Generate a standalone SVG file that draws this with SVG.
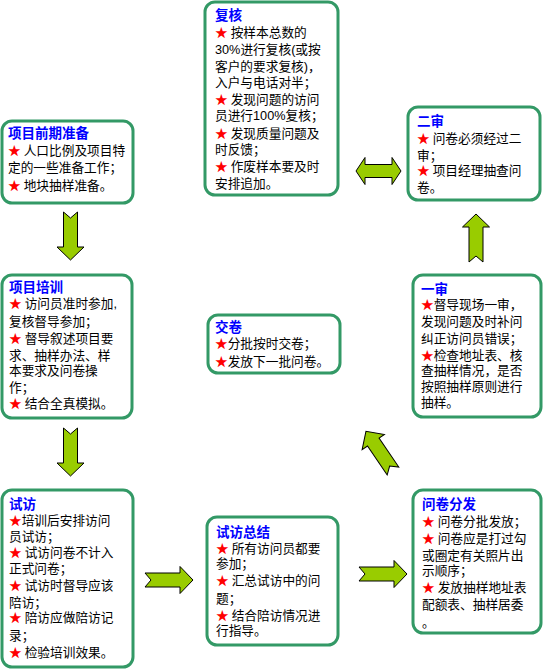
<svg xmlns="http://www.w3.org/2000/svg" xmlns:xlink="http://www.w3.org/1999/xlink" width="546" height="670" viewBox="0 0 546 670">
<style>
.box{fill:#fff;stroke:#339966;stroke-width:3}
.t{font-family:"Liberation Sans","Noto Sans CJK SC",sans-serif;font-size:13.5px;font-weight:bold;fill:#0000ff}
.b{font-family:"Liberation Sans","Noto Sans CJK SC",sans-serif;font-size:12.7px;fill:#000}
.s{fill:#ff0000}
.arr{fill:#99cc00;stroke:#000;stroke-width:1}
</style>
<defs>
<polygon id="arr" points="0,-7 35,-7 35,-13.5 48,0 35,13.5 35,7 0,7 6,0"/>
</defs>
<rect width="546" height="670" fill="#fff"/>
<g id="connectors" class="arr">
<use xlink:href="#arr" href="#arr" transform="translate(70.5,212) rotate(90)"/>
<use xlink:href="#arr" href="#arr" transform="translate(70.5,428) rotate(90)"/>
<use xlink:href="#arr" href="#arr" transform="translate(145,580)"/>
<use xlink:href="#arr" href="#arr" transform="translate(359,574)"/>
<use xlink:href="#arr" href="#arr" transform="translate(393,471) rotate(-124.3)"/>
<use xlink:href="#arr" href="#arr" transform="translate(476,262) rotate(-90)"/>
<polygon points="356,171 365,157.5 365,164.5 392,164.5 392,157.5 401,171 392,184.5 392,177.5 365,177.5 365,184.5"/>
</g>
<g id="n1">
<rect class="box" x="2" y="121" width="131" height="82" rx="10"/>
<text class="t" x="8" y="138">项目前期准备</text>
<text class="b" x="8" y="155"><tspan class="s">★</tspan><tspan dx="3">人口比例及项目特</tspan></text>
<text class="b" x="8" y="172">定的一些准备工作；</text>
<text class="b" x="8" y="190"><tspan class="s">★</tspan><tspan dx="3">地块抽样准备。</tspan></text>
</g>
<g id="n2">
<rect class="box" x="205" y="2" width="133" height="193" rx="10"/>
<text class="t" x="215" y="20">复核</text>
<text class="b" x="215" y="37"><tspan class="s">★</tspan><tspan dx="3">按样本总数的</tspan></text>
<text class="b" x="215" y="54">30%进行复核(或按</text>
<text class="b" x="215" y="71">客户的要求复核)，</text>
<text class="b" x="215" y="87">入户与电话对半；</text>
<text class="b" x="215" y="104"><tspan class="s">★</tspan><tspan dx="3">发现问题的访问</tspan></text>
<text class="b" x="215" y="120">员进行100%复核；</text>
<text class="b" x="215" y="138"><tspan class="s">★</tspan><tspan dx="3">发现质量问题及</tspan></text>
<text class="b" x="215" y="154">时反馈；</text>
<text class="b" x="215" y="171"><tspan class="s">★</tspan><tspan dx="3">作废样本要及时</tspan></text>
<text class="b" x="215" y="188">安排追加。</text>
</g>
<g id="n3">
<rect class="box" x="408" y="107" width="132" height="93" rx="10"/>
<text class="t" x="417" y="126">二审</text>
<text class="b" x="417" y="143"><tspan class="s">★</tspan><tspan dx="3">问卷必须经过二</tspan></text>
<text class="b" x="417" y="160">审；</text>
<text class="b" x="417" y="175"><tspan class="s">★</tspan><tspan dx="3">项目经理抽查问</tspan></text>
<text class="b" x="417" y="192">卷。</text>
</g>
<g id="n4">
<rect class="box" x="2" y="275" width="130" height="143" rx="10"/>
<text class="t" x="9" y="292">项目培训</text>
<text class="b" x="9" y="308"><tspan class="s">★</tspan><tspan dx="3">访问员准时参加,</tspan></text>
<text class="b" x="9" y="326">复核督导参加；</text>
<text class="b" x="9" y="343"><tspan class="s">★</tspan><tspan dx="3">督导叙述项目要</tspan></text>
<text class="b" x="9" y="360">求、抽样办法、样</text>
<text class="b" x="9" y="375">本要求及问卷操</text>
<text class="b" x="9" y="392">作；</text>
<text class="b" x="9" y="408"><tspan class="s">★</tspan><tspan dx="3">结合全真模拟。</tspan></text>
</g>
<g id="n5">
<rect class="box" x="208" y="315" width="132" height="58" rx="10"/>
<text class="t" x="215" y="332">交卷</text>
<text class="b" x="215" y="348"><tspan class="s">★</tspan>分批按时交卷；</text>
<text class="b" x="215" y="366"><tspan class="s">★</tspan>发放下一批问卷。</text>
</g>
<g id="n6">
<rect class="box" x="413" y="275" width="128" height="142" rx="10"/>
<text class="t" x="421" y="294">一审</text>
<text class="b" x="421" y="309"><tspan class="s">★</tspan>督导现场一审，</text>
<text class="b" x="421" y="326">发现问题及时补问</text>
<text class="b" x="421" y="343">纠正访问员错误；</text>
<text class="b" x="421" y="360"><tspan class="s">★</tspan>检查地址表、核</text>
<text class="b" x="421" y="375">查抽样情况，是否</text>
<text class="b" x="421" y="391">按照抽样原则进行</text>
<text class="b" x="421" y="407">抽样。</text>
</g>
<g id="n7">
<rect class="box" x="2" y="490" width="131" height="177" rx="10"/>
<text class="t" x="9" y="509">试访</text>
<text class="b" x="9" y="525"><tspan class="s">★</tspan>培训后安排访问</text>
<text class="b" x="9" y="541">员试访；</text>
<text class="b" x="9" y="557"><tspan class="s">★</tspan><tspan dx="3">试访问卷不计入</tspan></text>
<text class="b" x="9" y="573">正式问卷；</text>
<text class="b" x="9" y="590"><tspan class="s">★</tspan><tspan dx="3">试访时督导应该</tspan></text>
<text class="b" x="9" y="607">陪访；</text>
<text class="b" x="9" y="622"><tspan class="s">★</tspan><tspan dx="3">陪访应做陪访记</tspan></text>
<text class="b" x="9" y="640">录；</text>
<text class="b" x="9" y="657"><tspan class="s">★</tspan><tspan dx="3">检验培训效果。</tspan></text>
</g>
<g id="n8">
<rect class="box" x="207" y="517" width="131" height="128" rx="10"/>
<text class="t" x="216" y="537">试访总结</text>
<text class="b" x="216" y="553"><tspan class="s">★</tspan><tspan dx="3">所有访问员都要</tspan></text>
<text class="b" x="216" y="568">参加；</text>
<text class="b" x="216" y="585"><tspan class="s">★</tspan><tspan dx="3">汇总试访中的问</tspan></text>
<text class="b" x="216" y="603">题；</text>
<text class="b" x="216" y="620"><tspan class="s">★</tspan><tspan dx="3">结合陪访情况进</tspan></text>
<text class="b" x="216" y="635">行指导。</text>
</g>
<g id="n9">
<rect class="box" x="413" y="490" width="128" height="143" rx="10"/>
<text class="t" x="422" y="509">问卷分发</text>
<text class="b" x="422" y="526"><tspan class="s">★</tspan><tspan dx="3">问卷分批发放；</tspan></text>
<text class="b" x="422" y="543"><tspan class="s">★</tspan><tspan dx="3">问卷应是打过勾</tspan></text>
<text class="b" x="422" y="560">或圈定有关照片出</text>
<text class="b" x="422" y="575">示顺序；</text>
<text class="b" x="422" y="592"><tspan class="s">★</tspan><tspan dx="3">发放抽样地址表</tspan></text>
<text class="b" x="422" y="609">配额表、抽样居委</text>
<text class="b" x="422" y="627">。</text>
</g>
</svg>
